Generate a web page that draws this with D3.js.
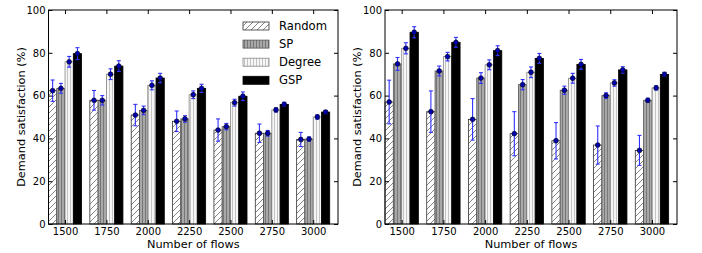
<!DOCTYPE html>
<html>
<head>
<meta charset="utf-8">
<script src="https://cdn.jsdelivr.net/npm/d3@7"></script>
<style>
  body { margin: 0; background: #fff; }
  svg { display: block; font-family: "DejaVu Sans", sans-serif; }
</style>
</head>
<body>
<div id="chart"></div>
<script>
const flows = ['1500', '1750', '2000', '2250', '2500', '2750', '3000'];
const methods = ['Random', 'SP', 'Degree', 'GSP'];
const yTicks = [0, 20, 40, 60, 80, 100];

// left panel
const leftRandom = [62.3, 57.8, 50.9, 48.0, 43.9, 42.4, 39.5];
const leftSP     = [63.4, 57.8, 53.1, 49.1, 45.5, 42.4, 39.7];
const leftDegree = [75.8, 70.0, 64.8, 60.4, 56.7, 53.3, 50.0];
const leftGSP    = [79.6, 73.8, 68.2, 63.4, 59.7, 55.9, 52.3];
const leftRandomErr = [5.0, 4.6, 5.0, 4.8, 5.2, 4.3, 3.3];
const leftSPErr     = [2.3, 2.2, 2.0, 1.5, 1.5, 1.3, 1.0];
const leftDegreeErr = [2.5, 2.5, 2.1, 1.8, 1.6, 1.0, 1.0];
const leftGSPErr    = [2.8, 2.5, 2.2, 1.9, 2.0, 1.0, 0.8];

// right panel
const rightRandom = [57.0, 52.5, 48.9, 42.2, 38.9, 36.9, 34.4];
const rightSP     = [74.8, 71.5, 68.2, 65.1, 62.5, 60.0, 57.8];
const rightDegree = [82.1, 78.2, 74.4, 70.9, 68.1, 65.9, 63.6];
const rightGSP    = [89.6, 84.9, 81.0, 77.4, 74.6, 72.0, 69.9];
const rightRandomErr = [10.2, 9.7, 9.7, 10.3, 8.5, 8.9, 7.0];
const rightSPErr     = [3.0, 2.3, 2.5, 2.4, 1.9, 1.3, 1.0];
const rightDegreeErr = [2.6, 2.0, 2.3, 2.5, 2.3, 1.5, 1.0];
const rightGSPErr    = [2.6, 2.3, 2.3, 2.3, 2.3, 1.5, 1.0];

const width = 702, height = 253;
const svg = d3.select('#chart').append('svg')
    .attr('width', width)
    .attr('height', height);

const defs = svg.append('defs');

// hatch patterns (matplotlib-ish)
const pRandom = defs.append('pattern')
    .attr('id', 'hatchRandom')
    .attr('patternUnits', 'userSpaceOnUse')
    .attr('width', 6).attr('height', 6);
pRandom.append('rect').attr('width', 6).attr('height', 6).attr('fill', '#fff');
pRandom.append('path')
    .attr('d', 'M-1,7 L7,-1 M-1,1 L1,-1 M5,7 L7,5')
    .attr('stroke', '#666').attr('stroke-width', 0.8);

const pSP = defs.append('pattern')
    .attr('id', 'hatchSP')
    .attr('patternUnits', 'userSpaceOnUse')
    .attr('width', 3).attr('height', 3);
pSP.append('rect').attr('width', 3).attr('height', 3).attr('fill', '#a8a8a8');
pSP.append('rect').attr('x', 1).attr('width', 1).attr('height', 3).attr('fill', '#777');

const pDeg = defs.append('pattern')
    .attr('id', 'hatchDegree')
    .attr('patternUnits', 'userSpaceOnUse')
    .attr('width', 3).attr('height', 3);
pDeg.append('rect').attr('width', 3).attr('height', 3).attr('fill', '#f6f6f6');
pDeg.append('rect').attr('x', 1).attr('width', 1).attr('height', 3).attr('fill', '#c4c4c4');

const fills = ['url(#hatchRandom)', 'url(#hatchSP)', 'url(#hatchDegree)', '#000'];
const edges = ['#333', '#555', '#888', '#000'];

function drawPanel(x0, x1, values, errors, withLegend) {
    const top = 10, bottom = 224;
    const x = d3.scaleLinear().domain([-0.4, 6.6]).range([x0, x1]);
    const y = d3.scaleLinear().domain([0, 100]).range([bottom, top]);
    const barW = 0.2;

    const g = svg.append('g');

    // bars
    methods.forEach((m, j) => {
        g.append('g').selectAll('rect')
            .data(values[j])
            .join('rect')
            .attr('x', (d, i) => x(i + (j - 2) * barW))
            .attr('y', d => y(d))
            .attr('width', x(barW) - x(0))
            .attr('height', d => y(0) - y(d))
            .attr('fill', fills[j])
            .attr('stroke', edges[j])
            .attr('stroke-width', 0.8);
    });

    // error bars
    methods.forEach((m, j) => {
        const eg = g.append('g');
        const pts = values[j].map((v, i) => ({ cx: i + (j - 1.5) * barW, v: v, e: errors[j][i] }));
        eg.selectAll('line.err')
            .data(pts)
            .join('line')
            .attr('class', 'err')
            .attr('x1', d => x(d.cx)).attr('x2', d => x(d.cx))
            .attr('y1', d => y(d.v + d.e)).attr('y2', d => y(d.v - d.e))
            .attr('stroke', '#3030ff').attr('stroke-width', 1.1);
        [1, -1].forEach((s, k) => {
            eg.selectAll('line.cap' + k)
                .data(pts)
                .join('line')
                .attr('class', 'cap' + k)
                .attr('x1', d => x(d.cx) - 2).attr('x2', d => x(d.cx) + 2)
                .attr('y1', d => y(d.v + s * d.e))
                .attr('y2', d => y(d.v + s * d.e))
                .attr('stroke', '#3030ff').attr('stroke-width', 1.1);
        });
        eg.selectAll('circle')
            .data(pts)
            .join('circle')
            .attr('cx', d => x(d.cx))
            .attr('cy', d => y(d.v))
            .attr('r', 2.4)
            .attr('fill', '#0000b0')
            .attr('stroke', '#000')
            .attr('stroke-width', 0.6);
    });

    // axes, ticks pointing inward
    const idx = d3.range(flows.length);
    const styleAxis = sel => {
        sel.select('.domain').remove();
        sel.selectAll('line').attr('stroke', '#000');
        sel.selectAll('text').attr('font-size', 10).attr('fill', '#000')
            .attr('font-family', '"DejaVu Sans", sans-serif');
    };
    g.append('g').attr('transform', `translate(0,${bottom})`)
        .call(d3.axisBottom(x).tickValues(idx).tickFormat(i => flows[i])
            .tickSizeInner(-4).tickSizeOuter(0).tickPadding(4))
        .call(styleAxis);
    g.append('g').attr('transform', `translate(0,${top})`)
        .call(d3.axisTop(x).tickValues(idx).tickFormat('')
            .tickSizeInner(-4).tickSizeOuter(0))
        .call(styleAxis);
    g.append('g').attr('transform', `translate(${x0},0)`)
        .call(d3.axisLeft(y).tickValues(yTicks).tickFormat(d3.format('d'))
            .tickSizeInner(-4).tickSizeOuter(0).tickPadding(3))
        .call(styleAxis);
    g.append('g').attr('transform', `translate(${x1},0)`)
        .call(d3.axisRight(y).tickValues(yTicks).tickFormat('')
            .tickSizeInner(-4).tickSizeOuter(0))
        .call(styleAxis);

    // frame
    g.append('rect')
        .attr('x', x0).attr('y', top)
        .attr('width', x1 - x0).attr('height', bottom - top)
        .attr('fill', 'none').attr('stroke', '#000').attr('stroke-width', 1);

    // labels
    g.append('text')
        .attr('x', (x0 + x1) / 2).attr('y', 248)
        .attr('text-anchor', 'middle')
        .attr('font-size', 11.3)
        .text('Number of flows');
    g.append('text')
        .attr('transform', `translate(${x0 - 24},${(top + bottom) / 2}) rotate(-90)`)
        .attr('text-anchor', 'middle')
        .attr('font-size', 11.3)
        .text('Demand satisfaction (%)');

    if (withLegend) {
        const lg = g.append('g').attr('transform', 'translate(243,26)');
        const rows = lg.selectAll('g')
            .data(methods)
            .join('g')
            .attr('transform', (d, i) => `translate(0,${i * 18.1})`);
        rows.append('rect')
            .attr('x', 0).attr('y', -4)
            .attr('width', 26).attr('height', 8)
            .attr('fill', (d, i) => fills[i])
            .attr('stroke', (d, i) => edges[i])
            .attr('stroke-width', 0.8);
        rows.append('text')
            .attr('x', 36).attr('y', 0)
            .attr('dy', '0.36em')
            .attr('font-size', 11.6)
            .text(d => d);
    }
}

drawPanel(48.5, 338,
    [leftRandom, leftSP, leftDegree, leftGSP],
    [leftRandomErr, leftSPErr, leftDegreeErr, leftGSPErr], true);
drawPanel(385, 677,
    [rightRandom, rightSP, rightDegree, rightGSP],
    [rightRandomErr, rightSPErr, rightDegreeErr, rightGSPErr], false);
</script>
</body>
</html>
